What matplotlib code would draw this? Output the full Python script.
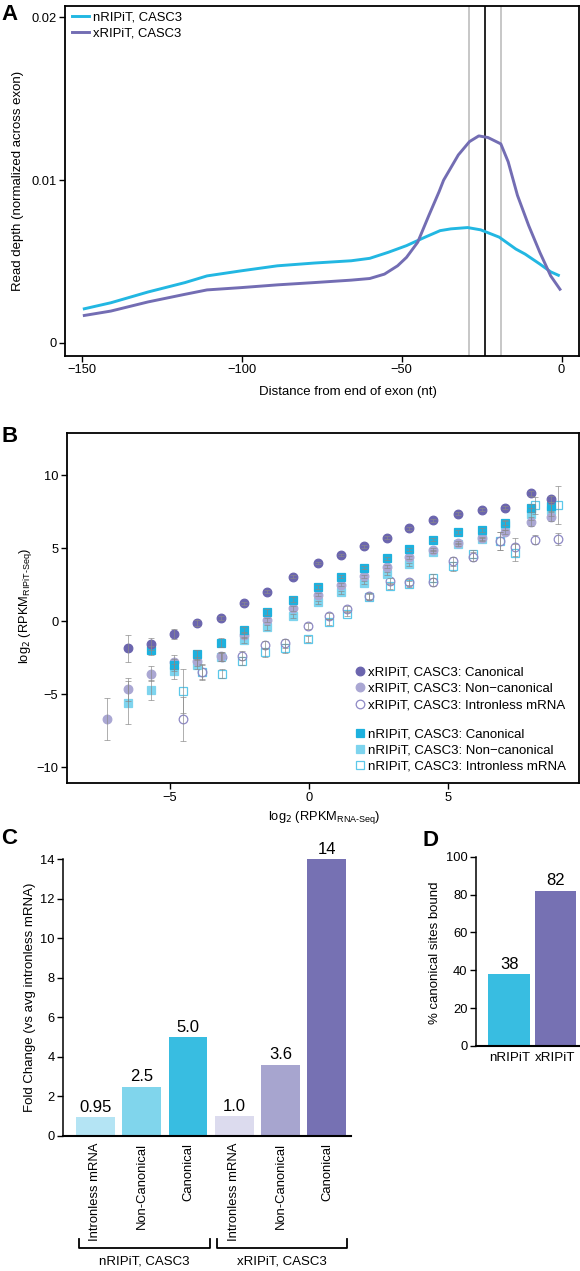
import matplotlib
matplotlib.use("Agg")
import matplotlib.pyplot as plt
import numpy as np

plt.rcParams['font.family'] = ['Liberation Sans', 'DejaVu Sans']
plt.rcParams['axes.linewidth'] = 1.3

W, H = 580, 1271

# ---------- panel A data ----------
dist_n = [-149.3, -141, -129.4, -117.8, -110.9, -100.3, -88.9, -77.4, -65.8, -60, -54.2, -48.5,
          -42.7, -38, -34.6, -29.4, -25.3, -19.5, -14.3, -11.4, -6.8, -3.4, -1]
depth_n = [0.0021, 0.00247, 0.00313, 0.00371, 0.00412, 0.00443, 0.00474, 0.00491, 0.00505, 0.0052,
           0.00557, 0.00598, 0.0065, 0.0069, 0.00701, 0.00709, 0.00695, 0.0065, 0.00577, 0.00546,
           0.00485, 0.00437, 0.00416]
dist_x = [-149.3, -141, -129.4, -117.8, -110.9, -100.3, -88.9, -77.4, -65.8, -60, -55.4, -51.3,
          -48.5, -45, -41.5, -38.3, -36.9, -32.3, -28.8, -25.9, -23, -19, -16.7, -13.8, -10.3,
          -6.8, -3.4, -0.5]
depth_x = [0.00169, 0.00196, 0.00252, 0.00299, 0.00326, 0.0034, 0.00357, 0.00371, 0.00386, 0.00396,
           0.00423, 0.00474, 0.00526, 0.00619, 0.00784, 0.0093, 0.0100, 0.01155, 0.01237, 0.01272,
           0.01262, 0.01223, 0.01113, 0.00907, 0.00722, 0.00557, 0.00412, 0.0033]
vlines_grey = [-29, -19]
vline_black = -24

# ---------- panel B data ----------
xb = [-6.51, -5.67, -4.86, -4.01, -3.17, -2.33, -1.50, -0.57, 0.32, 1.16, 2.00, 2.80, 3.62,
      4.46, 5.35, 6.22, 7.06, 7.98, 8.71]
x_canon_y = [-1.87, -1.55, -0.88, -0.15, 0.2, 1.21, 2.0, 3.03, 3.98, 4.53, 5.11, 5.70, 6.37,
             6.90, 7.35, 7.62, 7.76, 8.75, 8.36]
x_canon_e = [0.9, 0.4, 0.35, 0.2, 0.15, 0.1, 0.1, 0.1, 0.1, 0.1, 0.1, 0.1, 0.1, 0.1, 0.1, 0.1,
             0.1, 0.15, 0.2]
xnc_x = [-7.26] + xb
x_nonc_y = [-6.70, -4.66, -3.6, -2.8, -2.75, -2.4, -0.95, 0.07, 0.87, 1.80, 2.48, 3.08, 3.71,
            4.36, 4.90, 5.36, 5.66, 6.11, 6.8, 7.15]
x_nonc_e = [1.45, 0.8, 0.5, 0.5, 0.3, 0.3, 0.2, 0.15, 0.15, 0.1, 0.1, 0.1, 0.1, 0.1, 0.1, 0.1,
            0.1, 0.15, 0.3, 0.3]
n_canon_x = xb[1:]
n_canon_y = [-2.0, -2.98, -2.28, -1.48, -0.62, 0.64, 1.48, 2.35, 3.03, 3.65, 4.29, 4.92, 5.56,
             6.11, 6.22, 6.75, 7.75, 7.85]
n_canon_e = [0.3, 0.4, 0.3, 0.3, 0.2, 0.2, 0.15, 0.15, 0.1, 0.1, 0.1, 0.1, 0.1, 0.15, 0.15,
             0.2, 0.3, 0.3]
n_nonc_y = [-5.58, -4.71, -3.44, -2.98, -2.45, -1.28, -0.43, 0.34, 1.30, 1.98, 2.62, 3.26, 3.90,
            4.74, 5.27, 5.61, 6.55, 7.35, 7.6]
n_nonc_e = [1.45, 0.7, 0.5, 0.3, 0.3, 0.2, 0.2, 0.15, 0.1, 0.1, 0.1, 0.1, 0.1, 0.1, 0.1, 0.1,
            0.3, 0.4, 0.4]
xi = [-4.51, -3.83, -3.13, -2.41, -1.56, -0.84, -0.04, 0.72, 1.38, 2.16, 2.92, 3.62, 4.46,
      5.18, 5.91, 6.88, 7.42, 8.12, 8.95]
x_intr_y = [-6.72, -3.5, -2.44, -2.37, -1.64, -1.53, -0.36, 0.36, 0.82, 1.73, 2.73, 2.69, 2.69,
            4.10, 4.40, 5.49, 5.08, 5.58, 5.62]
x_intr_e = [1.5, 0.5, 0.3, 0.3, 0.3, 0.3, 0.2, 0.2, 0.2, 0.2, 0.2, 0.2, 0.25, 0.3, 0.3, 0.6,
            0.6, 0.3, 0.4]
n_intr_y = [-4.76, -3.45, -3.6, -2.73, -2.14, -1.87, -1.23, -0.05, 0.52, 1.66, 2.39, 2.57, 2.96,
            3.76, 4.6, 5.5, 4.69, 7.93, 7.93]
n_intr_e = [1.5, 0.5, 0.3, 0.3, 0.3, 0.3, 0.2, 0.2, 0.2, 0.2, 0.2, 0.2, 0.25, 0.3, 0.3, 0.6,
            0.6, 0.6, 1.3]

# ---------- panel C / D data ----------
c_labels = ["Intronless mRNA", "Non-Canonical", "Canonical",
            "Intronless mRNA", "Non-Canonical", "Canonical"]
c_values = [0.95, 2.5, 5.0, 1.0, 3.6, 14]
c_texts = ["0.95", "2.5", "5.0", "1.0", "3.6", "14"]
c_colors = ["#b4e4f4", "#80d5ec", "#38bde1", "#dcdbee", "#a7a5cf", "#7671b3"]
c_groups = ["nRIPiT, CASC3", "xRIPiT, CASC3"]

d_labels = ["nRIPiT", "xRIPiT"]
d_values = [38, 82]
d_colors = ["#38bde1", "#7671b3"]

CYAN = "#22b7e2"
PURPLE = "#736db3"
TICK = 9.3
LAB = 9.5

fig = plt.figure(figsize=(W / 100, H / 100), dpi=100)


def box(l, t, r, b):
    return [l / W, 1 - b / H, (r - l) / W, (b - t) / H]


def ftext(x, y, s, **kw):
    fig.text(x / W, 1 - y / H, s, **kw)


# ================= A =================
axA = fig.add_axes(box(64.8, 6, 578.5, 356))
axA.axvline(vlines_grey[0], color="#bdbdbd", lw=1.2)
axA.axvline(vlines_grey[1], color="#bdbdbd", lw=1.2)
axA.axvline(vline_black, color="black", lw=1.2)
axA.plot(dist_n, depth_n, color=CYAN, lw=2.1, label="nRIPiT, CASC3")
axA.plot(dist_x, depth_x, color=PURPLE, lw=2.1, label="xRIPiT, CASC3")
axA.set_xlim(-155.4, 5.3)
axA.set_ylim(-0.0008, 0.0207)
axA.set_xticks([-150, -100, -50, 0])
axA.set_yticks([0, 0.01, 0.02])
axA.set_yticklabels(["0", "0.01", "0.02"])
axA.tick_params(labelsize=TICK, length=4, width=1, pad=2)
axA.legend(loc="upper left", bbox_to_anchor=(0.014, 0.985), frameon=False, fontsize=9.4,
           handlelength=1.3, handletextpad=0.3, labelspacing=0.3, borderpad=0, borderaxespad=0)
ftext(18, 181, "Read depth (normalized across exon)", rotation=90, ha="center", va="center", fontsize=LAB)
ftext(348, 392, "Distance from end of exon (nt)", ha="center", va="center", fontsize=LAB)

# ================= B =================
axB = fig.add_axes(box(66.7, 432.7, 578.5, 783.3))
ms_c, ms_s = 6.2, 5.5
series = [
    (xi, n_intr_y, n_intr_e, "s", "none", "#5cc8ea", ms_s, "nRIPiT, CASC3: Intronless mRNA"),
    (xi, x_intr_y, x_intr_e, "o", "none", "#8e89c5", ms_c, "xRIPiT, CASC3: Intronless mRNA"),
    (xb, n_nonc_y, n_nonc_e, "s", "#7ed4ee", "#7ed4ee", ms_s, "nRIPiT, CASC3: Non\u2212canonical"),
    (xnc_x, x_nonc_y, x_nonc_e, "o", "#aaa7d3", "#aaa7d3", ms_c, "xRIPiT, CASC3: Non\u2212canonical"),
    (n_canon_x, n_canon_y, n_canon_e, "s", "#1db1de", "#1db1de", ms_s, "nRIPiT, CASC3: Canonical"),
    (xb, x_canon_y, x_canon_e, "o", "#6b65ae", "#6b65ae", ms_c, "xRIPiT, CASC3: Canonical"),
]
handles = {}
for xs, ys, es, mk, fc, ec, ms, lab in series:
    h, = axB.plot(xs, ys, ls="none", marker=mk, mfc=fc, mec=ec, mew=0.9, ms=ms, label=lab)
    handles[lab] = h
for xs, ys, es, mk, fc, ec, ms, lab in series:
    axB.errorbar(xs, ys, yerr=es, fmt="none", ecolor="#8a8a8a", elinewidth=0.6,
                 capsize=2, capthick=0.6, alpha=0.8)
axB.set_xlim(-8.7, 9.7)
axB.set_ylim(-11.1, 12.9)
axB.set_xticks([-5, 0, 5])
axB.set_yticks([-10, -5, 0, 5, 10])
axB.tick_params(labelsize=TICK, length=4, width=1, pad=2)
g1 = ["xRIPiT, CASC3: Canonical", "xRIPiT, CASC3: Non\u2212canonical", "xRIPiT, CASC3: Intronless mRNA"]
g2 = ["nRIPiT, CASC3: Canonical", "nRIPiT, CASC3: Non\u2212canonical", "nRIPiT, CASC3: Intronless mRNA"]
leg_kw = dict(loc="upper left", frameon=False, fontsize=9.5, handlelength=0.75, handletextpad=0.25,
              labelspacing=0.3, borderpad=0, borderaxespad=0)
leg1 = axB.legend([handles[k] for k in g1], g1, bbox_to_anchor=(0.563, 0.333), **leg_kw)
axB.add_artist(leg1)
axB.legend([handles[k] for k in g2], g2, bbox_to_anchor=(0.563, 0.157), **leg_kw)
ftext(26, 606, "log$_2$ (RPKM$_{\\mathregular{RIPiT\u2010Seq}}$)", rotation=90, ha="center", va="center", fontsize=9.3)
ftext(324, 817, "log$_2$ (RPKM$_{\\mathregular{RNA\u2010Seq}}$)", ha="center", va="center", fontsize=9.3)

# ================= C =================
axC = fig.add_axes(box(63, 859.3, 351, 1136))
xc = np.arange(len(c_values))
axC.bar(xc, c_values, width=0.84, color=c_colors)
for x, v, t in zip(xc, c_values, c_texts):
    axC.text(x, v + 0.12, t, ha="center", va="bottom", fontsize=12)
axC.set_xlim(-0.70, 5.52)
axC.set_ylim(0, 14)
axC.set_yticks(np.arange(0, 15, 2))
axC.set_xticks(xc)
axC.set_xticklabels(c_labels, rotation=90, fontsize=9.4)
axC.tick_params(axis="x", length=0, pad=5)
axC.tick_params(axis="y", labelsize=TICK, length=4, width=1, pad=2)
for s in ["top", "right"]:
    axC.spines[s].set_visible(False)
axC.spines["left"].set_linewidth(1.1)
axC.spines["bottom"].set_linewidth(1.5)
tr = axC.get_xaxis_transform()
brackets = [(-0.35, 2.47), (2.62, 5.43)]
for (a, b), g in zip(brackets, c_groups):
    axC.plot([a, a, b, b], [-0.372, -0.406, -0.406, -0.372], color="black", lw=1.3,
             transform=tr, clip_on=False)
    axC.text((a + b) / 2, -0.454, g, ha="center", va="center", fontsize=9.5, transform=tr)
ftext(30, 997, "Fold Change (vs avg intronless mRNA)", rotation=90, ha="center", va="center", fontsize=LAB)

# ================= D =================
axD = fig.add_axes(box(476, 856.7, 578.5, 1046))
xd = np.arange(len(d_values))
axD.bar(xd, d_values, width=0.9, color=d_colors)
for x, v in zip(xd, d_values):
    axD.text(x, v + 1.3, str(v), ha="center", va="bottom", fontsize=12)
axD.set_xlim(-0.72, 1.50)
axD.set_ylim(0, 100)
axD.set_yticks(np.arange(0, 101, 20))
axD.set_xticks(xd)
axD.set_xticklabels(d_labels, fontsize=9.6)
axD.tick_params(axis="x", length=0, pad=4)
axD.tick_params(axis="y", labelsize=TICK, length=4, width=1, pad=2)
for s in ["top", "right"]:
    axD.spines[s].set_visible(False)
axD.spines["left"].set_linewidth(1.1)
axD.spines["bottom"].set_linewidth(1.5)
ftext(435, 953, "% canonical sites bound", rotation=90, ha="center", va="center", fontsize=LAB)

# panel letters
for x, y, s in [(10, 15, "A"), (10, 436, "B"), (9, 839, "C"), (430, 840, "D")]:
    ftext(x, y, s, ha="center", va="center", fontsize=16, fontweight="bold")

fig.savefig("out.png", dpi=100)
